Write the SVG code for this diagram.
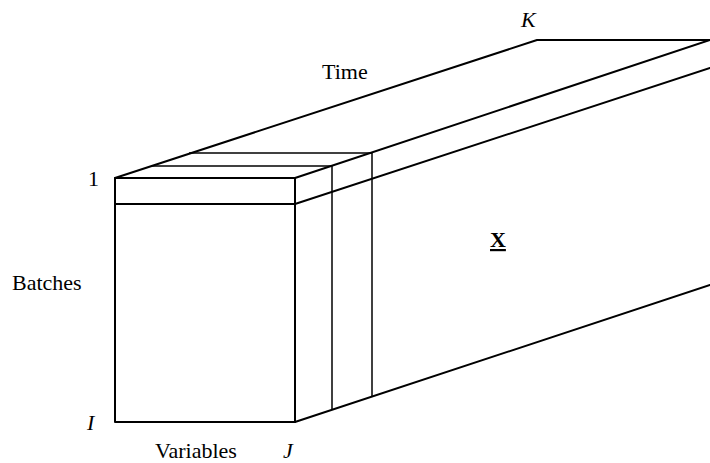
<svg xmlns="http://www.w3.org/2000/svg" width="710" height="463" viewBox="0 0 710 463">
<style>
.e{stroke:#000;stroke-width:2;fill:none;stroke-linecap:round;stroke-linejoin:round}
.t{stroke:#000;stroke-width:1.5;fill:none}
.l{font-family:"Liberation Serif","Times New Roman",serif;font-size:22px;fill:#000}
.i{font-style:italic}
</style>
<rect width="710" height="463" fill="#fff"/>
<g id="block">
<polyline class="e" points="115,422 115,178 295,178 295,422 115,422"/>
<line class="e" x1="115" y1="204" x2="295" y2="204"/>
<polyline class="e" points="115,178 537,40 710,40"/>
<line class="e" x1="295" y1="178" x2="710" y2="40"/>
<line class="e" x1="295" y1="204" x2="710" y2="68"/>
<line class="e" x1="295" y1="422" x2="710" y2="285"/>
</g>
<g id="slices">
<line class="t" x1="151" y1="166" x2="332" y2="166"/>
<line class="t" x1="189" y1="153" x2="372" y2="153"/>
<line class="t" x1="332" y1="166" x2="332" y2="409.5"/>
<line class="t" x1="372" y1="153" x2="372" y2="396.5"/>
</g>
<g id="labels">
<text class="l" x="322" y="79">Time</text>
<text class="l i" x="521" y="27">K</text>
<text class="l" x="88" y="186">1</text>
<text class="l" x="12" y="290">Batches</text>
<text class="l i" x="87" y="430">I</text>
<text class="l" x="155" y="458">Variables</text>
<text class="l i" x="283" y="458">J</text>
<text class="l" x="490" y="247" font-weight="bold" text-decoration="underline">X</text>
</g>
</svg>
